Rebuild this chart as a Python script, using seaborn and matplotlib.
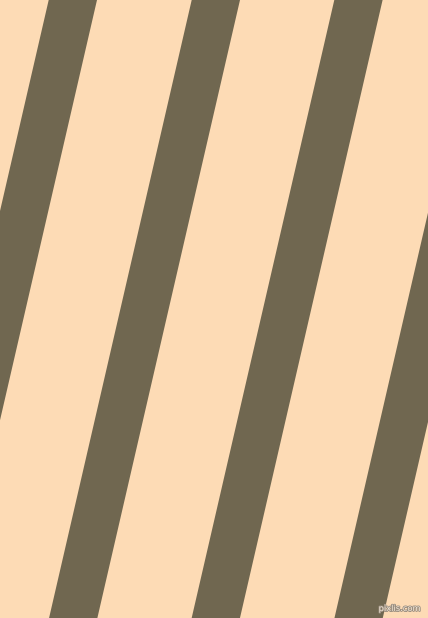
import numpy as np
import matplotlib
matplotlib.use("Agg")
import matplotlib.pyplot as plt
import matplotlib.patheffects as pe
import seaborn as sns


# stripe left edges where they cross the top edge (pixels)
stripe_top_x = [-94.1, 48.7, 191.7, 334.3, 477.1]
stripe_width = 48.3
stripe_slope = 0.2308  # horizontal shift per pixel going down

background = "#FDDBB5"
stripe_color = "#706750"

sns.set_theme(style="white")

fig = plt.figure(figsize=(4.28, 6.18), dpi=100)
ax = fig.add_axes([0, 0, 1, 1])
ax.set_facecolor(background)
fig.patch.set_facecolor(background)

y = np.array([0, 618])
for x0 in stripe_top_x:
    left = x0 - stripe_slope * y
    ax.fill_betweenx(y, left, left + stripe_width, color=stripe_color, linewidth=0)

ax.set_xlim(0, 428)
ax.set_ylim(618, 0)
ax.axis("off")

ax.text(421, 611, "pixlis.com", ha="right", va="baseline", fontsize=6,
        color="#F3E6D6",
        path_effects=[pe.withStroke(linewidth=1.2, foreground="#9A8E80")])

fig.savefig("out.png", dpi=100, facecolor=background)
